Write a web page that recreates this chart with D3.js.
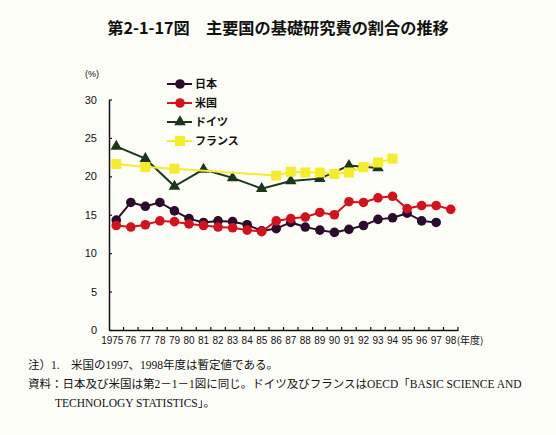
<!DOCTYPE html>
<html>
<head>
<meta charset="utf-8">
<script src="https://cdn.jsdelivr.net/npm/d3@7"></script>
<style>
  html, body { margin: 0; padding: 0; background: #fdfdf8; }
  svg { display: block; }
</style>
</head>
<body>
<script>
// ---- data ----
const years = d3.range(1975, 1999);
const seriesNames = ["日本", "米国", "ドイツ", "フランス"];
const japan   = [14.3, 16.6, 16.1, 16.6, 15.5, 14.5, 14.0, 14.2, 14.1, 13.7, 12.9, 13.2, 14.0, 13.4, 13.0, 12.7, 13.1, 13.6, 14.4, 14.6, 15.2, 14.2, 14.0, null];
const usa     = [13.6, 13.4, 13.7, 14.2, 14.1, 13.8, 13.6, 13.4, 13.3, 13.0, 12.8, 14.2, 14.5, 14.7, 15.3, 15.0, 16.7, 16.6, 17.2, 17.4, 15.8, 16.2, 16.2, 15.7];
const germany = [23.9, null, 22.3, null, 18.7, null, 20.9, null, 19.8, null, 18.4, null, 19.4, null, 19.7, null, 21.4, null, 21.1, null, null, null, null, null];
const france  = [21.6, null, 21.2, null, 21.0, null, null, null, null, null, null, 20.1, 20.6, 20.5, 20.5, 20.3, 20.5, 21.2, 21.8, 22.3, null, null, null, null];
const yTicks = [0, 5, 10, 15, 20, 25, 30];
const titleText = "第2-1-17図　主要国の基礎研究費の割合の推移";
const unitText = "(%)";
const xUnitText = "(年度)";
const notes = [
  "注）1.　米国の1997、1998年度は暫定値である。",
  "資料：日本及び米国は第2－1－1図に同じ。ドイツ及びフランスはOECD「BASIC SCIENCE AND",
  "TECHNOLOGY STATISTICS」。"
];

const seriesValues = [japan, usa, germany, france];
const colors = ["#2c0c2c", "#d3121e", "#1b361b", "#f5ed2c"];
const markers = ["circle", "circle", "triangle", "square"];

const W = 556, H = 435;
const svg = d3.select("body").append("svg").attr("width", W).attr("height", H);
svg.append("rect").attr("width", W).attr("height", H).attr("fill", "#fdfdf8");

const x = d3.scaleBand().domain(years).range([109, 458]).padding(0);
const y = d3.scaleLinear().domain([0, 30]).range([330, 99.5]);
const cx = d => x(d) + x.bandwidth() / 2;

const axisFont = "'Liberation Sans', Arial, sans-serif";
const cjkFont = "'Noto Sans CJK JP', sans-serif";

// title
svg.append("text").attr("x", 278).attr("y", 34).attr("text-anchor", "middle")
  .attr("font-family", cjkFont).attr("font-weight", "bold").attr("font-size", 16.2)
  .attr("fill", "#111").text(titleText);

// y axis
const yAxis = svg.append("g").attr("transform", `translate(${x.range()[0]},0)`)
  .call(d3.axisLeft(y).tickValues(yTicks).tickSizeInner(-3).tickSizeOuter(0).tickPadding(12));
yAxis.select(".domain").attr("stroke", "#111").attr("stroke-width", 1.5);
yAxis.selectAll(".tick line").attr("stroke", "#111").attr("stroke-width", 1.2);
yAxis.selectAll("text").attr("font-family", axisFont).attr("font-size", 11).attr("fill", "#111");

// unit label
svg.append("text").attr("x", 92).attr("y", 77).attr("text-anchor", "middle")
  .attr("font-family", axisFont).attr("font-size", 9).attr("fill", "#111").text(unitText);

// x axis
const xAxis = svg.append("g").attr("transform", `translate(0,${y(0)})`)
  .call(d3.axisBottom(x).tickSize(0).tickPadding(7)
    .tickFormat(d => d === years[0] ? String(d) : String(d).slice(2)));
xAxis.select(".domain").attr("stroke", "#111").attr("stroke-width", 1.5);
xAxis.selectAll("text").attr("font-family", axisFont).attr("font-size", 10).attr("fill", "#111");
xAxis.selectAll(".tick").filter(d => d === years[0]).select("text").attr("dx", -4);
// tick marks at category boundaries
const boundaries = years.slice(1).map(d => x(d)).concat([x.range()[1]]);
xAxis.selectAll(".bnd").data(boundaries).join("line").attr("class", "bnd")
  .attr("x1", d => d).attr("x2", d => d).attr("y1", 0).attr("y2", -3)
  .attr("stroke", "#111").attr("stroke-width", 1.2);
// (年度)
const lastYear = years[years.length - 1];
svg.append("text").attr("x", cx(lastYear) + 6).attr("y", y(0) + 7).attr("dy", "0.71em")
  .attr("font-family", cjkFont).attr("font-size", 10).attr("fill", "#111").text(xUnitText);

// marker drawing
function drawMarker(g, type, color, px, py) {
  if (type === "circle") {
    g.append("circle").attr("cx", px).attr("cy", py).attr("r", 4.8).attr("fill", color);
  } else if (type === "square") {
    g.append("rect").attr("x", px - 5).attr("y", py - 5).attr("width", 10).attr("height", 10).attr("fill", color);
  } else {
    g.append("path").attr("d", d3.symbol().type(d3.symbolTriangle).size(58)()).attr("transform", `translate(${px},${py})`).attr("fill", color);
  }
}

// series
seriesValues.forEach((vals, i) => {
  const pts = years.map((yr, j) => ({ yr, v: vals[j] })).filter(p => p.v != null);
  const g = svg.append("g");
  const line = d3.line().x(p => cx(p.yr)).y(p => y(p.v));
  g.append("path").datum(pts).attr("d", line).attr("fill", "none")
    .attr("stroke", colors[i]).attr("stroke-width", 2);
  pts.forEach(p => drawMarker(g, markers[i], colors[i], cx(p.yr), y(p.v)));
});

// legend
const legY = [84, 103, 122, 141];
seriesNames.forEach((name, i) => {
  const g = svg.append("g");
  g.append("line").attr("x1", 167).attr("x2", 192).attr("y1", legY[i]).attr("y2", legY[i])
    .attr("stroke", colors[i]).attr("stroke-width", 2);
  drawMarker(g, markers[i], colors[i], 180, legY[i]);
  g.append("text").attr("x", 195).attr("y", legY[i]).attr("dy", "0.35em")
    .attr("font-family", cjkFont).attr("font-weight", "bold").attr("font-size", 11)
    .attr("fill", "#111").text(name);
});

// notes
const noteFont = "'Liberation Serif', 'Noto Sans CJK JP', serif";
const noteX = [28, 28, 55];
const noteY = [369, 388, 407];
notes.forEach((t, i) => {
  svg.append("text").attr("x", noteX[i]).attr("y", noteY[i])
    .attr("font-family", noteFont).attr("font-size", 11.5).attr("fill", "#111").text(t);
});
</script>
</body>
</html>
